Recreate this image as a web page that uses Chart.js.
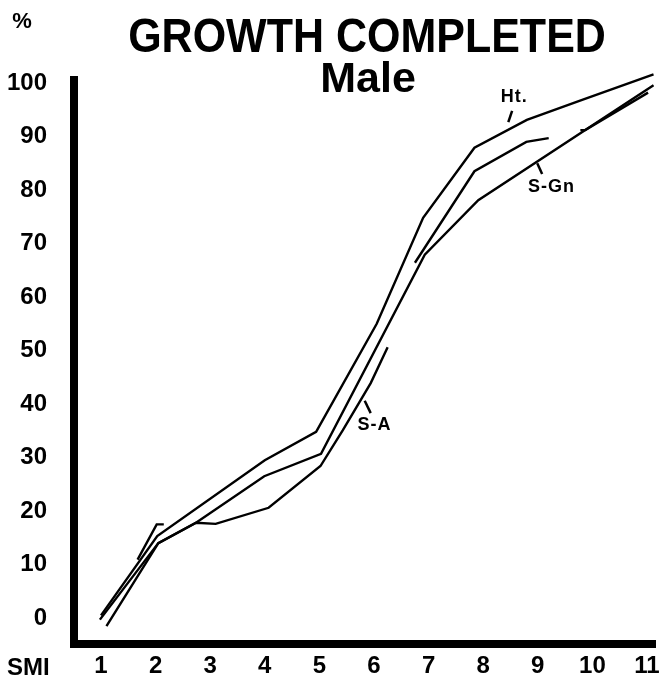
<!DOCTYPE html>
<html>
<head>
<meta charset="utf-8">
<script src="https://cdn.jsdelivr.net/npm/chart.js@4/dist/chart.umd.min.js"></script>
<style>
  body { margin: 0; background: #fff; }
  canvas { display: block; }
</style>
</head>
<body>
<canvas id="growth-chart" width="659" height="688"></canvas>
<script>
// SMI stage ticks and % ticks
const smiTicks = [1, 2, 3, 4, 5, 6, 7, 8, 9, 10, 11];
const pctTicks = [0, 10, 20, 30, 40, 50, 60, 70, 80, 90, 100];

// Ht. curve
const htSmi = [1.0, 2.03, 4.0, 4.94, 6.05, 6.9, 7.84, 8.8, 9.8, 11.12];
const htPct = [0.5, 15.3, 29.5, 34.8, 55.0, 74.8, 87.9, 93.1, 96.8, 101.6];

// S-Gn curve
const sgnSmi = [0.98, 2.05, 2.74, 3.99, 5.03, 6.93, 7.91, 11.12];
const sgnPct = [-0.3, 14.0, 17.8, 26.5, 30.7, 67.9, 78.1, 99.6];

// S-A curve
const saSmi = [1.1, 2.05, 2.74, 3.1, 4.07, 5.02, 5.43, 5.94, 6.25];
const saPct = [-1.5, 14.0, 17.8, 17.6, 20.6, 28.4, 35.1, 43.9, 50.6];

// loose strokes drawn on the original
const strokeASmi = [1.67, 2.02, 2.15];
const strokeAPct = [10.9, 17.5, 17.5];
const strokeBSmi = [6.75, 7.84, 8.79, 9.2];
const strokeBPct = [66.4, 83.5, 89.0, 89.7];
const strokeCSmi = [9.78, 9.87, 11.02];
const strokeCPct = [91.2, 91.2, 98.2];

const toPoints = (xs, ys) => xs.map((x, i) => ({ x: x, y: ys[i] }));

const FONT = "'Liberation Sans', Arial, sans-serif";

// titles, labels on the curves
const textPlugin = {
  id: "textPlugin",
  afterDraw(chart) {
    const ctx = chart.ctx;
    const xs = chart.scales.x;
    const ys = chart.scales.y;
    const area = chart.chartArea;
    ctx.save();
    ctx.fillStyle = "#000";
    ctx.strokeStyle = "#000";

    // fill the corner where the two thick axes meet
    ctx.fillRect(area.left - 4, area.bottom - 4, 8, 8);

    ctx.textBaseline = "alphabetic";
    ctx.textAlign = "center";
    ctx.font = "bold 43px " + FONT;
    ctx.save();
    ctx.translate(367, 52);
    ctx.scale(1, 1.1);
    ctx.fillText("GROWTH COMPLETED", 0, 0);
    ctx.restore();
    ctx.fillText("Male", 368, 92);

    ctx.font = "bold 22px " + FONT;
    ctx.fillText("%", 22, 28);

    ctx.textAlign = "left";
    ctx.font = "bold 24px " + FONT;
    ctx.fillText("SMI", 7, 675);

    // curve labels with short leaders
    const label = (txt, sx, sy, l1, l2) => {
      ctx.font = "bold 18px " + FONT;
      ctx.letterSpacing = "1px";
      ctx.textAlign = "left";
      ctx.textBaseline = "middle";
      ctx.fillText(txt, xs.getPixelForValue(sx), ys.getPixelForValue(sy));
      ctx.lineWidth = 2.5;
      ctx.beginPath();
      ctx.moveTo(xs.getPixelForValue(l1[0]), ys.getPixelForValue(l1[1]));
      ctx.lineTo(xs.getPixelForValue(l2[0]), ys.getPixelForValue(l2[1]));
      ctx.stroke();
    };
    label("Ht.", 8.32, 97.3, [8.46, 92.7], [8.53, 94.8]);
    label("S-Gn", 8.82, 80.6, [8.99, 85.0], [9.08, 83.0]);
    label("S-A", 5.70, 36.1, [5.83, 40.6], [5.94, 38.3]);
    ctx.restore();
  },
};

const lineSet = (label, xs, ys) => ({
  label: label,
  data: toPoints(xs, ys),
  borderColor: "#000",
  borderWidth: 2.4,
  pointRadius: 0,
  fill: false,
  clip: false,
});

const growthChart = new Chart(document.getElementById("growth-chart").getContext("2d"), {
  type: "line",
  data: {
    datasets: [
      lineSet("Ht.", htSmi, htPct),
      lineSet("S-Gn", sgnSmi, sgnPct),
      lineSet("S-A", saSmi, saPct),
      lineSet("", strokeASmi, strokeAPct),
      lineSet("", strokeBSmi, strokeBPct),
      lineSet("", strokeCSmi, strokeCPct),
    ],
  },
  options: {
    responsive: false,
    animation: false,
    layout: { padding: { top: 80, right: 4, left: 0, bottom: 0 } },
    plugins: {
      legend: { display: false },
      title: { display: false },
      tooltip: { enabled: false },
    },
    scales: {
      x: {
        type: "linear",
        min: 0.5055,
        max: 11.147,
        grid: { display: false, drawTicks: false },
        border: { display: true, width: 8, color: "#000" },
        ticks: {
          color: "#000",
          padding: 8,
          font: { family: FONT, size: 24, weight: "bold" },
        },
        afterBuildTicks: (s) => {
          s.ticks = smiTicks.map((v) => ({ value: v }));
        },
        afterFit: (s) => {
          s.height = 44;
          s.paddingLeft = 0;
          s.paddingRight = 0;
        },
      },
      y: {
        min: -4.86,
        max: 100.56,
        grid: { display: false, drawTicks: false },
        border: { display: true, width: 8, color: "#000" },
        ticks: {
          color: "#000",
          padding: 27,
          font: { family: FONT, size: 24, weight: "bold" },
        },
        afterBuildTicks: (s) => {
          s.ticks = pctTicks.map((v) => ({ value: v }));
        },
        afterFit: (s) => {
          s.width = 74;
          s.paddingTop = 0;
          s.paddingBottom = 0;
        },
      },
    },
  },
  plugins: [textPlugin],
});
</script>
</body>
</html>
